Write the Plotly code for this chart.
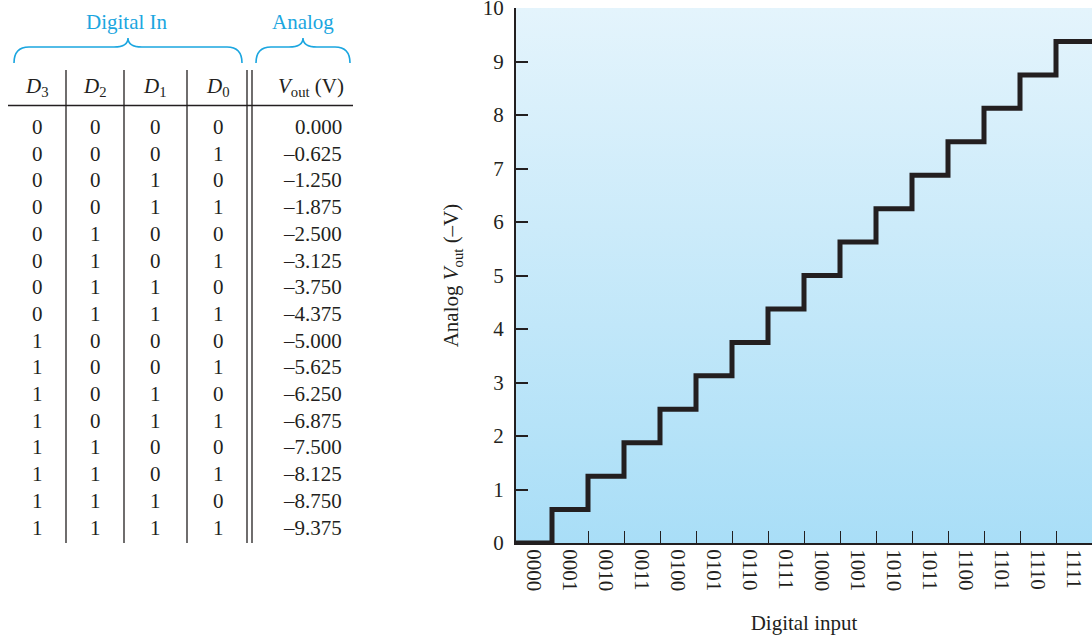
import plotly.graph_objects as go

# ---- 4-bit DAC truth table -------------------------------------------------
D3 = [0, 0, 0, 0, 0, 0, 0, 0, 1, 1, 1, 1, 1, 1, 1, 1]
D2 = [0, 0, 0, 0, 1, 1, 1, 1, 0, 0, 0, 0, 1, 1, 1, 1]
D1 = [0, 0, 1, 1, 0, 0, 1, 1, 0, 0, 1, 1, 0, 0, 1, 1]
D0 = [0, 1, 0, 1, 0, 1, 0, 1, 0, 1, 0, 1, 0, 1, 0, 1]
VOUT = [0.000, -0.625, -1.250, -1.875, -2.500, -3.125, -3.750, -4.375,
        -5.000, -5.625, -6.250, -6.875, -7.500, -8.125, -8.750, -9.375]
CODES = ["0000", "0001", "0010", "0011", "0100", "0101", "0110", "0111",
         "1000", "1001", "1010", "1011", "1100", "1101", "1110", "1111"]
Y_TICKS = [0, 1, 2, 3, 4, 5, 6, 7, 8, 9, 10]

W, H = 1092, 635
INK = "#231f20"
CYAN = "#1ba6e0"
SERIF = "Liberation Serif, Times New Roman, serif"
FS = 21


def px(x):
    return x / W


def py(y):
    return 1 - y / H


fig = go.Figure()

# gradient backdrop of the plot area
fig.add_trace(go.Scatter(
    x=[0, len(CODES), len(CODES), 0, 0], y=[0, 0, 10, 10, 0],
    mode="lines", fill="toself", line=dict(width=0),
    fillgradient=dict(type="vertical", start=0, stop=10,
                      colorscale=[[0, "#a9def7"], [1, "#e4f4fc"]]),
    hoverinfo="skip", showlegend=False))

# staircase output: one level per input code
step_x = list(range(len(CODES) + 1))
step_y = [-v for v in VOUT] + [-VOUT[-1]]
fig.add_trace(go.Scatter(
    x=step_x, y=step_y, mode="lines", line_shape="hv",
    line=dict(color=INK, width=5), showlegend=False))

annotations = []
shapes = []

# table header
col_x = [37, 95, 155, 218]
headers = ["<i>D</i><sub>3</sub>", "<i>D</i><sub>2</sub>",
           "<i>D</i><sub>1</sub>", "<i>D</i><sub>0</sub>"]
for cx, h in zip(col_x, headers):
    annotations.append(dict(x=px(cx), y=py(87), xref="paper", yref="paper",
                            text=h, showarrow=False, xanchor="center",
                            yanchor="middle", font=dict(size=FS, color=INK, family=SERIF)))
annotations.append(dict(x=px(311), y=py(87), xref="paper", yref="paper",
                        text="<i>V</i><sub>out</sub> (V)", showarrow=False,
                        xanchor="center", yanchor="middle",
                        font=dict(size=FS, color=INK, family=SERIF)))

# group captions above the braces
annotations.append(dict(x=px(127), y=py(22), xref="paper", yref="paper",
                        text="Digital In", showarrow=False, xanchor="center",
                        yanchor="middle", font=dict(size=FS, color=CYAN, family=SERIF)))
annotations.append(dict(x=px(303), y=py(22), xref="paper", yref="paper",
                        text="Analog", showarrow=False, xanchor="center",
                        yanchor="middle", font=dict(size=FS, color=CYAN, family=SERIF)))


def brace(x0, x1, top=38, mid=47, bot=63, r=15):
    xc = (x0 + x1) / 2
    pts = [
        f"M {px(x0)},{py(bot)}",
        f"Q {px(x0)},{py(mid)} {px(x0 + r)},{py(mid)}",
        f"L {px(xc - 14)},{py(mid)}",
        f"Q {px(xc)},{py(mid)} {px(xc)},{py(top)}",
        f"Q {px(xc)},{py(mid)} {px(xc + 14)},{py(mid)}",
        f"L {px(x1 - r)},{py(mid)}",
        f"Q {px(x1)},{py(mid)} {px(x1)},{py(bot)}",
    ]
    return dict(type="path", xref="paper", yref="paper", path=" ".join(pts),
                line=dict(color=CYAN, width=1.6))


shapes.append(brace(14, 242))
shapes.append(brace(256, 350))

# table rules
shapes.append(dict(type="line", xref="paper", yref="paper",
                   x0=px(8), x1=px(353), y0=py(105.5), y1=py(105.5),
                   line=dict(color=INK, width=1.3)))
for vx in [66, 124, 187, 247, 252]:
    shapes.append(dict(type="line", xref="paper", yref="paper",
                       x0=px(vx), x1=px(vx), y0=py(70), y1=py(543),
                       line=dict(color=INK, width=1.3)))

# table body
row0, row_h = 127, 26.7
for i in range(len(VOUT)):
    ry = row0 + i * row_h
    for cx, bits in zip(col_x, [D3, D2, D1, D0]):
        annotations.append(dict(x=px(cx), y=py(ry), xref="paper", yref="paper",
                                text=str(bits[i]), showarrow=False,
                                xanchor="center", yanchor="middle",
                                font=dict(size=FS, color=INK, family=SERIF)))
    label = f"{VOUT[i]:.3f}".replace("-", "\u2013")
    annotations.append(dict(x=px(344), y=py(ry), xref="paper", yref="paper",
                            text=label, showarrow=False, xanchor="right",
                            yanchor="middle",
                            font=dict(size=FS, color=INK, family=SERIF)))

fig.update_layout(
    width=W, height=H,
    margin=dict(l=0, r=0, t=0, b=0),
    paper_bgcolor="white", plot_bgcolor="white",
    font=dict(family=SERIF, size=FS, color=INK),
    annotations=annotations, shapes=shapes,
    xaxis=dict(
        domain=[px(516), 1], range=[0, len(CODES)],
        tickmode="array", tickvals=[i + 0.5 for i in range(len(CODES))],
        ticktext=CODES, tickangle=90, ticks="", showgrid=False, zeroline=False,
        showline=True, linecolor=INK, linewidth=2,
        ticklabeloverflow="allow",
        tickfont=dict(size=FS, family=SERIF, color=INK),
        minor=dict(tickmode="array", tickvals=list(range(1, len(CODES))),
                   ticks="inside", ticklen=12, tickcolor=INK, tickwidth=1.2,
                   showgrid=False),
        title=dict(text="Digital input", standoff=26,
                   font=dict(size=FS, family=SERIF, color=INK)),
        automargin=False, fixedrange=True,
    ),
    yaxis=dict(
        domain=[1 - 543 / H, 1 - 8 / H], range=[0, 10],
        tickmode="array", tickvals=Y_TICKS, ticks="inside", ticklen=12,
        tickcolor=INK, tickwidth=1.5, showgrid=False, zeroline=False,
        showline=True, linecolor=INK, linewidth=2,
        ticklabelstandoff=6, ticklabeloverflow="allow",
        tickfont=dict(size=FS, family=SERIF, color=INK),
        title=dict(text="Analog <i>V</i><sub>out</sub> (\u2013V)", standoff=18,
                   font=dict(size=FS, family=SERIF, color=INK)),
        automargin=False, fixedrange=True,
    ),
)

fig.write_html("out.html")
